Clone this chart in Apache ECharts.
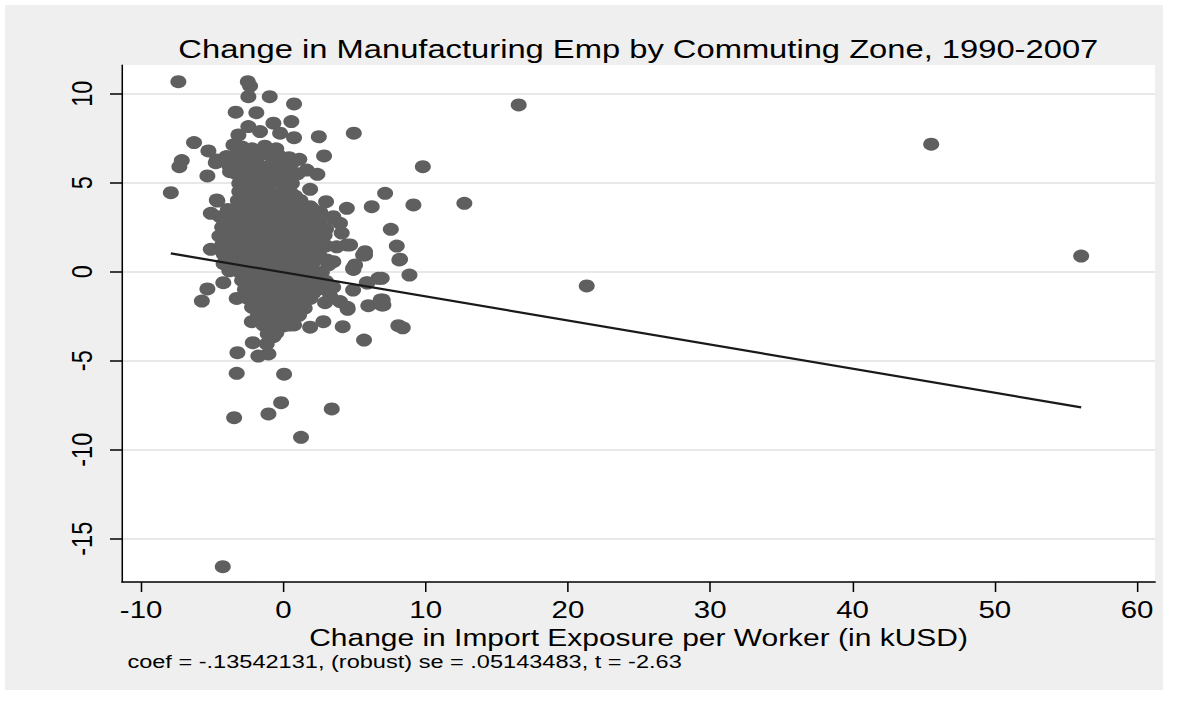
<!DOCTYPE html>
<html>
<head>
<meta charset="utf-8">
<title>Change in Manufacturing Emp by Commuting Zone, 1990-2007</title>
<script src="https://cdn.jsdelivr.net/npm/echarts@6/dist/echarts.min.js"></script>
<style>
  html, body { margin: 0; padding: 0; background: #fff; overflow: hidden; }
  /* the reference graph is stretched sideways, so draw at natural width and widen it */
  #wrap { width: 920px; height: 702px; transform: scaleX(1.28043); transform-origin: 0 0; }
  #chart { width: 920px; height: 702px; }
</style>
</head>
<body>
<div id="wrap"><div id="chart"></div></div>
<script>
const FONT = '"Liberation Sans", Arial, Helvetica, sans-serif';

const xTicks = [-10, 0, 10, 20, 30, 40, 50, 60];
const yTicks = [-15, -10, -5, 0, 5, 10];

// isolated points, upper half
const outliersUpper = [
  [-7.38, 10.67], [-2.50, 10.67], [-2.34, 10.43], [-2.46, 9.83], [-0.96, 9.83], [0.75, 9.42],
  [-3.35, 8.96], [-1.90, 8.93], [0.56, 8.43], [-0.70, 8.34], [-2.46, 8.15], [-1.64, 7.87],
  [-0.23, 7.78], [-3.16, 7.68], [0.75, 7.53], [2.49, 7.58], [4.95, 7.78], [-6.28, 7.25],
  [-5.27, 6.78], [-3.51, 7.12], [2.86, 6.50], [-7.14, 6.24], [-7.31, 5.90], [9.80, 5.90],
  [-4.75, 6.12], [-5.34, 5.38], [1.12, 6.31], [2.39, 5.47], [1.64, 5.71], [-7.91, 4.44],
  [1.88, 4.63], [7.15, 4.40], [9.14, 3.75], [6.21, 3.65], [4.46, 3.56], [3.00, 3.93],
  [-4.64, 3.97], [-5.10, 3.28], [7.55, 2.38], [7.97, 1.44], [16.54, 9.37], [12.72, 3.84],
  [45.53, 7.16], [56.07, 0.88]
];

// isolated points, lower half
const outliersLower = [
  [8.20, 0.70], [8.86, -0.19], [21.32, -0.80], [6.91, -0.37], [6.98, -1.59], [7.03, -1.87],
  [8.08, -3.03], [8.39, -3.15], [-5.10, 1.26], [8.15, 0.66], [5.74, 0.94], [5.04, 0.38],
  [4.92, 0.13], [6.68, -0.37], [5.86, -0.62], [-5.34, -0.97], [-5.73, -1.65], [-4.22, -0.62],
  [-3.28, -1.50], [5.97, -1.91], [6.91, -1.87], [6.84, -1.59], [4.52, -2.11], [2.93, -1.74],
  [3.98, -1.68], [2.34, -0.09], [2.81, -2.81], [4.17, -3.09], [1.88, -3.12], [0.75, -2.99],
  [5.67, -3.84], [-2.22, -2.81], [-2.15, -3.99], [-3.23, -4.55], [-1.76, -4.74], [-1.05, -4.62],
  [-1.17, -4.06], [-0.70, -3.65], [-3.28, -5.71], [0.05, -5.76], [-0.16, -7.36], [3.40, -7.71],
  [-1.05, -7.99], [-3.46, -8.20], [1.24, -9.30], [-4.26, -16.57]
];

// edge of the main cloud
const fringe = [
  [3.50, -0.87], [4.90, -1.03], [5.90, -0.64], [2.10, -1.20], [3.30, -1.40], [4.50, -2.00],
  [3.50, 3.00], [4.10, 2.17], [4.46, 1.50], [5.60, 0.94], [4.90, 0.20], [3.05, 0.66],
  [2.58, 3.37], [3.51, 3.09], [3.98, 2.72], [2.58, 1.40], [3.75, 1.40], [4.69, 1.50],
  [3.51, 0.56], [3.16, 0.38], [5.74, 1.12], [0.82, 4.25], [1.88, 3.65],
  [-4.68, 4.03], [-4.26, 3.09], [-4.68, 6.28], [-3.98, 6.46], [-3.75, 5.62], [-4.45, 3.09],
  [-3.98, 2.53], [-3.75, 1.97], [-3.51, 1.40]
];

// dense core, y above about 3
const coreUpper = [
  [-2.9, 7.0], [-2.2, 6.9], [-1.3, 7.05], [-0.5, 6.9],
  [-4.0, 6.45], [-3.3, 6.55], [-2.6, 6.5], [-1.8, 6.45], [-1.1, 6.6], [-0.3, 6.5], [0.4, 6.4],
  [-3.8, 5.95], [-3.0, 6.05], [-2.3, 6.0], [-1.5, 5.9], [-0.8, 6.05], [0.0, 5.95], [0.6, 6.1],
  [-3.3, 5.5], [-2.6, 5.45], [-1.8, 5.55], [-1.1, 5.5], [-0.3, 5.45], [0.4, 5.55], [1.0, 5.5],
  [-3.1, 4.95], [-2.4, 5.05], [-1.6, 4.95], [-0.9, 5.0], [-0.1, 5.05], [0.6, 4.95],
  [-3.1, 4.5], [-2.4, 4.45], [-1.6, 4.55], [-0.9, 4.45], [-0.1, 4.5], [0.5, 4.45],
  [-3.2, 4.0], [-2.5, 4.05], [-1.7, 3.95], [-1.0, 4.0], [-0.2, 4.05], [0.5, 3.95], [1.2, 4.0],
  [-3.9, 3.5], [-3.2, 3.45], [-2.4, 3.55], [-1.7, 3.5], [-0.9, 3.45], [-0.2, 3.55], [0.6, 3.5],
  [1.3, 3.45], [2.0, 3.55],
  [-4.2, 2.95], [-3.4, 3.05], [-2.7, 3.0], [-1.9, 2.95], [-1.2, 3.05], [-0.4, 3.0], [0.3, 2.95],
  [1.1, 3.05], [1.8, 3.0], [2.6, 2.95]
];

// dense core, y below about 3
const coreLower = [
  [-4.3, 2.5], [-3.6, 2.45], [-2.8, 2.55], [-2.1, 2.5], [-1.3, 2.45], [-0.6, 2.55], [0.2, 2.5],
  [0.9, 2.45], [1.7, 2.55], [2.4, 2.5], [3.0, 2.4],
  [-4.5, 2.0], [-3.8, 2.05], [-3.0, 1.95], [-2.3, 2.0], [-1.5, 2.05], [-0.8, 1.95], [0.0, 2.0],
  [0.7, 2.05], [1.5, 1.95], [2.2, 2.0], [2.9, 2.05],
  [-4.3, 1.5], [-3.6, 1.45], [-2.8, 1.55], [-2.1, 1.5], [-1.3, 1.45], [-0.6, 1.55], [0.2, 1.5],
  [0.9, 1.45], [1.7, 1.55], [2.4, 1.5], [3.0, 1.45],
  [-4.2, 1.0], [-3.4, 0.95], [-2.7, 1.05], [-1.9, 1.0], [-1.2, 0.95], [-0.4, 1.05], [0.3, 1.0],
  [1.1, 0.95], [1.8, 1.05], [2.5, 1.0],
  [-4.2, 0.45], [-3.5, 0.5], [-2.8, 0.45], [-2.2, 0.55], [-1.5, 0.5], [-0.7, 0.45], [0.0, 0.55],
  [0.8, 0.5], [1.5, 0.45], [2.1, 0.55],
  [-3.8, 0.05], [-3.1, 0.0], [-2.4, 0.05], [-1.6, -0.05], [-0.9, 0.0], [-0.1, 0.05], [0.6, -0.05],
  [1.4, 0.0], [2.1, 0.05], [2.7, -0.05],
  [-2.9, -0.5], [-2.2, -0.45], [-1.4, -0.55], [-0.7, -0.5], [0.1, -0.45], [0.8, -0.55],
  [1.6, -0.5], [2.3, -0.45], [3.0, -0.55],
  [-2.7, -1.0], [-1.9, -0.95], [-1.2, -1.05], [-0.4, -1.0], [0.3, -0.95], [1.1, -1.05],
  [1.8, -1.0], [2.5, -0.95], [3.1, -1.05],
  [-2.5, -1.5], [-1.7, -1.45], [-1.0, -1.55], [-0.2, -1.5], [0.5, -1.45], [1.3, -1.55], [1.9, -1.5],
  [-2.2, -2.0], [-1.4, -1.95], [-0.7, -2.05], [0.1, -2.0], [0.8, -1.95], [1.5, -2.05],
  [-1.8, -2.5], [-1.1, -2.45], [-0.3, -2.55], [0.4, -2.5], [1.1, -2.45],
  [-1.4, -3.0], [-0.7, -2.95], [0.0, -3.05], [0.4, -3.0],
  [-1.1, -3.5], [-0.5, -3.45]
];

// fitted line, ends at the smallest and largest x
const fitLine = [[-7.91, 1.03], [56.07, -7.62]];

const points = [].concat(outliersUpper, outliersLower, fringe, coreUpper, coreLower);

const chart = echarts.init(document.getElementById('chart'), null, { renderer: 'svg' });
chart.setOption({
  backgroundColor: '#ffffff',
  animation: false,
  textStyle: { fontFamily: FONT },
  graphic: [
    {
      type: 'rect', z: -10, silent: true,
      shape: { x: 3.9, y: 5, width: 904.4, height: 685 },
      style: { fill: '#efefef' }
    },
    {
      type: 'text', x: 498.5, y: 48.5,
      style: {
        text: 'Change in Manufacturing Emp by Commuting Zone, 1990-2007',
        fontFamily: FONT, fontSize: 25.55, fill: '#000',
        align: 'center', verticalAlign: 'middle'
      }
    },
    {
      type: 'text', x: 99.5, y: 661,
      style: {
        text: 'coef = -.13542131, (robust) se = .05143483, t = -2.63',
        fontFamily: FONT, fontSize: 18.4, fill: '#000',
        align: 'left', verticalAlign: 'middle'
      }
    }
  ],
  grid: {
    left: 95.3, right: 17.95, top: 65, bottom: 120,
    show: true, backgroundColor: '#ffffff', borderWidth: 0
  },
  xAxis: {
    type: 'value',
    min: -11.34,
    max: 61.26,
    name: 'Change in Import Exposure per Worker (in kUSD)',
    nameLocation: 'middle',
    nameGap: 39,
    nameTextStyle: { fontSize: 23.4, color: '#000', fontFamily: FONT },
    axisLine: { show: true, onZero: false, lineStyle: { color: '#000', width: 1.5 } },
    axisTick: { show: true, length: 10, customValues: xTicks, lineStyle: { color: '#000', width: 1.2 } },
    axisLabel: { customValues: xTicks, fontSize: 23, color: '#000', margin: 17, fontFamily: FONT },
    splitLine: { show: false }
  },
  yAxis: {
    type: 'value',
    min: -17.43,
    max: 11.61,
    axisLine: { show: true, onZero: false, lineStyle: { color: '#000', width: 1.2 } },
    axisTick: { show: true, length: 9.4, customValues: yTicks, lineStyle: { color: '#000', width: 1.5 } },
    axisLabel: { customValues: yTicks, rotate: 90, fontSize: 23.5, color: '#000', margin: 19, fontFamily: FONT },
    splitLine: { show: true, lineStyle: { color: '#e8e8e8', width: 2 } }
  },
  series: [
    {
      type: 'scatter',
      data: points,
      symbol: 'circle',
      symbolSize: [12.5, 13],
      itemStyle: { color: '#5f5f5f', opacity: 1 },
      z: 3
    },
    {
      type: 'line',
      data: fitLine,
      symbol: 'none',
      lineStyle: { color: '#1a1a1a', width: 2.2 },
      z: 4
    }
  ]
});
</script>
</body>
</html>
